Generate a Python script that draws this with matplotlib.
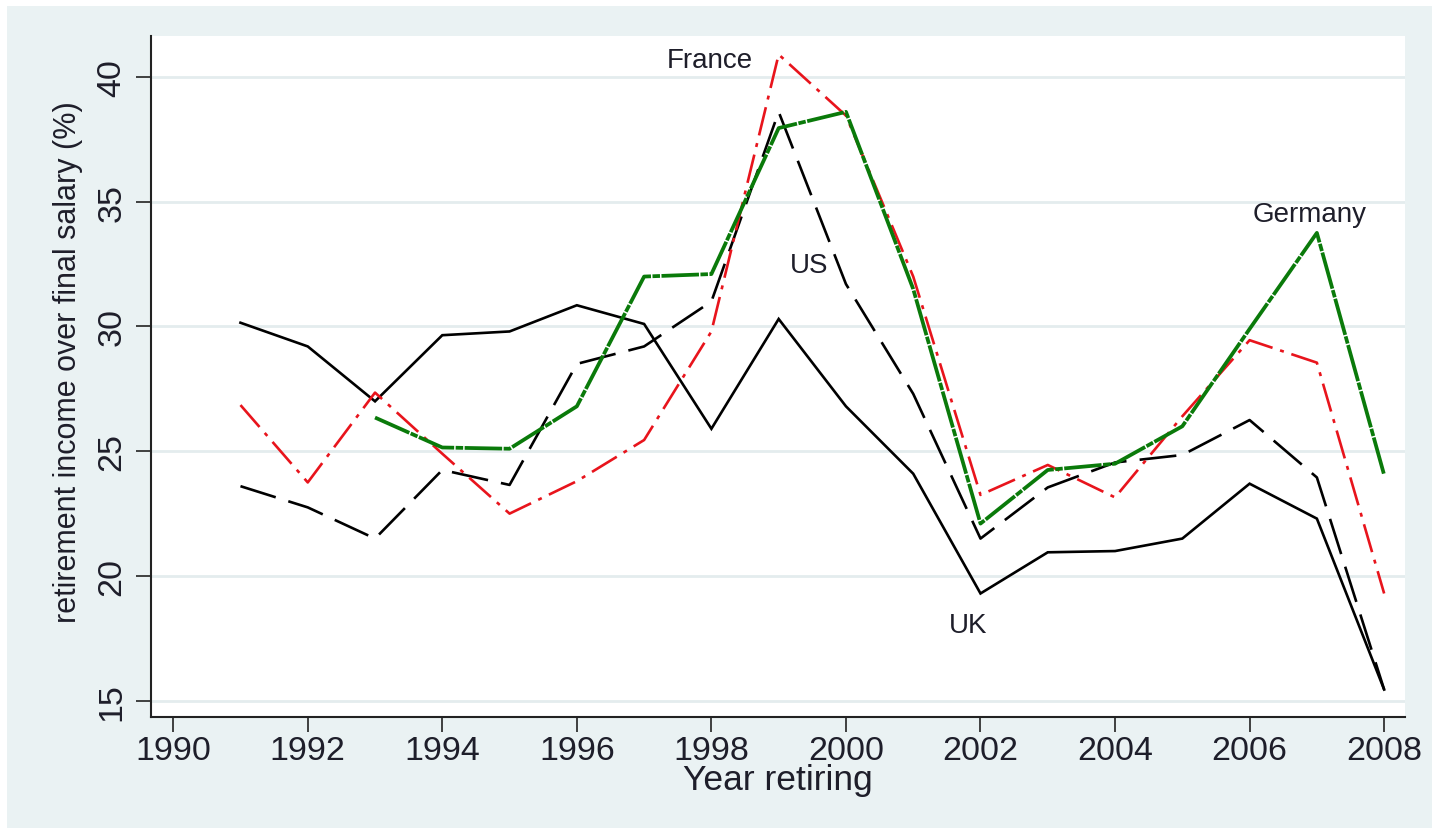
import numpy as np
import matplotlib
matplotlib.use("Agg")
import matplotlib.pyplot as plt
from matplotlib.patches import Rectangle

# data (retirement income / final salary, %)
years = [1991, 1992, 1993, 1994, 1995, 1996, 1997, 1998, 1999,
         2000, 2001, 2002, 2003, 2004, 2005, 2006, 2007, 2008]
uk = [30.15, 29.2, 27.0, 29.65, 29.8, 30.85, 30.1, 25.9, 30.3,
      26.8, 24.1, 19.3, 20.95, 21.0, 21.5, 23.7, 22.3, 15.45]
us = [23.6, 22.75, 21.5, 24.25, 23.65, 28.5, 29.2, 31.0, 38.6,
      31.7, 27.3, 21.5, 23.55, 24.55, 24.85, 26.25, 23.95, 15.45]
france = [26.85, 23.75, 27.35, 24.9, 22.5, 23.8, 25.45, 29.8, 40.9,
          38.45, 32.0, 23.25, 24.45, 23.15, 26.4, 29.45, 28.55, 19.3]
germany_years = years[2:]
germany = [26.35, 25.15, 25.1, 26.8, 32.0, 32.1, 37.95, 38.6, 31.5,
           22.1, 24.25, 24.5, 26.0, 29.9, 33.75, 24.05]

xticks = list(range(1990, 2009, 2))
yticks = [15, 20, 25, 30, 35, 40]

# country labels placed on the chart: (text, x, y)
labels = [("France", 1997.98, 40.68), ("US", 1999.45, 32.48),
          ("UK", 2001.81, 18.04), ("Germany", 2006.89, 34.52)]

bg = "#EAF2F3"
txt = "#1e1e2a"

plt.rcParams["font.family"] = ["Liberation Sans", "DejaVu Sans"]

fig = plt.figure(figsize=(14.32, 8.29), dpi=100, facecolor="white")
# stata-ish graph region
fig.patches.append(Rectangle((7 / 1432, 0), 1 - 7 / 1432, 1 - 7 / 829,
                             transform=fig.transFigure, facecolor=bg,
                             edgecolor="none", zorder=-10))

ax = fig.add_axes([151 / 1432, 1 - 718 / 829, (1405 - 151) / 1432, (718 - 37) / 829])
ax.set_zorder(5)
ax.set_facecolor("white")

ax.plot(years, uk, color="black", lw=1.9, solid_joinstyle="miter")
ax.plot(years, us, color="black", lw=1.9, dashes=(14, 5))
ax.plot(years, france, color="#e8141c", lw=1.9, dashes=(11, 3, 1.5, 3))
ax.plot(germany_years, germany, color="#0a7a0a", lw=2.7, dashes=(10, 0.4, 2, 0.4))

for name, x, y in labels:
    ax.text(x, y, name, fontsize=20, color=txt, ha="center", va="center")

ax.set_xlim(1989.67, 2008.31)
ax.set_ylim(14.35, 41.64)
ax.set_xticks(xticks)
ax.set_yticks(yticks)
ax.grid(axis="y", color="#E4ECEE", lw=2)
ax.set_axisbelow(True)

for s in ["top", "right"]:
    ax.spines[s].set_visible(False)
for s in ["left", "bottom"]:
    ax.spines[s].set_color("#222222")
    ax.spines[s].set_linewidth(1.5)

ax.tick_params(axis="both", direction="out", length=11, width=1.2,
               color="#222222", labelsize=24.5, labelcolor=txt)
ax.tick_params(axis="x", pad=2)
ax.tick_params(axis="y", pad=6, labelrotation=90)
for lab in ax.get_yticklabels():
    lab.set_va("center")

ax.set_xlabel("Year retiring", fontsize=25.5, color=txt)
ax.xaxis.set_label_coords(0.5, -0.068)
ax.set_ylabel("retirement income over final salary (%)", fontsize=22, color=txt)
ax.yaxis.set_label_coords(-0.054, 0.523)

fig.savefig("out.png", dpi=100, facecolor=fig.get_facecolor())
